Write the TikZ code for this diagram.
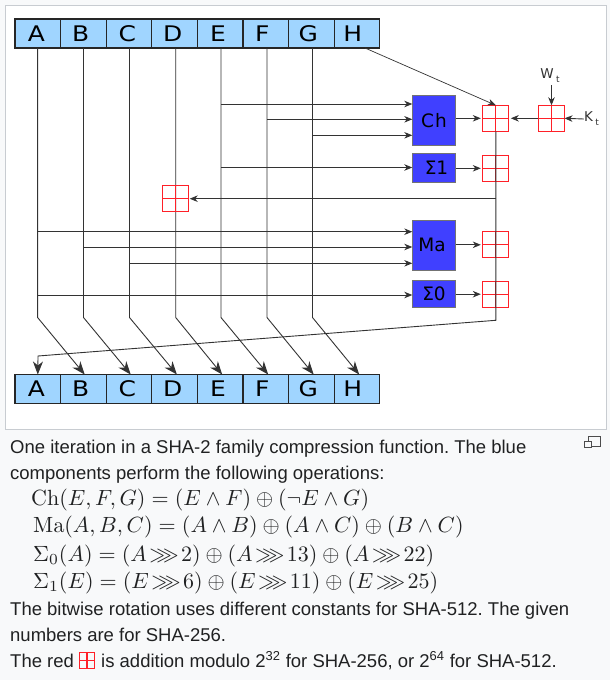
\documentclass[tikz,border=0pt]{standalone}
\usepackage{amsmath,amssymb}
\usepackage[no-math]{fontspec}
\setmainfont{Liberation Sans}
\newfontfamily\diagramfont{DejaVu Sans}
\newfontfamily\cellfont[FakeStretch=1.16]{DejaVu Sans}
\usetikzlibrary{arrows.meta,positioning}

\definecolor{pagegrey}{HTML}{F8F9FA}
\definecolor{framegrey}{HTML}{C8CCD1}
\definecolor{cellblue}{HTML}{A0D5FF}
\definecolor{opblue}{HTML}{4040FF}
\definecolor{addred}{HTML}{FF2028}
\definecolor{captext}{HTML}{202122}

\newcommand{\bigmath}[1]{\scalebox{2.2}{$#1$}}

\tikzset{
    cell/.style={rectangle, draw=black!85, fill=cellblue, line width=1.1pt, inner sep=0pt, outer sep=0pt,
        minimum width=45.6pt, minimum height=29pt, font=\cellfont\fontsize{21.5}{21.5}\selectfont},
    opbox/.style={rectangle, draw=black!55, fill=opblue, line width=0.8pt, inner sep=0pt, outer sep=0pt,
        minimum width=43.4pt, font=\diagramfont\fontsize{18.5}{18.5}\selectfont},
    adder/.style={rectangle, draw=addred, line width=1.2pt, inner sep=0pt, outer sep=0pt, minimum size=#1,
        path picture={
            \draw[addred, line width=1.2pt] (path picture bounding box.north) -- (path picture bounding box.south);
            \draw[addred, line width=1.2pt] (path picture bounding box.west) -- (path picture bounding box.east);
        }},
    adder/.default=26pt,
    wire/.style={draw=black!80, line width=0.9pt},
    smalltip/.style={wire, -{Stealth[length=8pt,width=6.5pt,inset=2.5pt]}},
    bigtip/.style={wire, -{Stealth[length=13pt,width=10pt,inset=4pt]}},
    tinylabel/.style={inner sep=0pt, text=black!80, font=\diagramfont\fontsize{13.5}{13.5}\selectfont},
    caption/.style={inner sep=0pt, anchor=base west, text=captext, font=\frenchspacing\fontsize{18.5}{18.5}\selectfont},
    formula/.style={inner sep=0pt, anchor=base west, text=captext}
}

\begin{document}
\begin{tikzpicture}[x=1pt,y=-1pt]
    \useasboundingbox (0,0) rectangle (610,680);
    \fill[pagegrey] (0,0) rectangle (610,680);
    \draw[framegrey, fill=white, line width=1pt] (5.5,5.5) rectangle (606.5,429.5);

    % registers, before and after the round
    \foreach \name/\off [count=\i from 0] in {A/3,B/5.5,C/3.5,D/3.5,E/4.5,F/7,G/6,H/8.6} {
        \node[cell] (top-\name) at (37.8+45.6*\i,33.5) {\hspace*{-\off pt}\name};
        \node[cell] (bot-\name) at (37.8+45.6*\i,389) {\hspace*{-\off pt}\name};
    }
    \foreach \name/\x in {A/37.6,B/83.5,C/129.5,D/175.7,E/221,F/267,G/312.5,H/358}
        \coordinate (bend-\name) at (\x,317.5);

    % the operations
    \node[opbox, minimum height=50.4pt] (Ch) at (434,120.5) {C\hspace{1pt}h};
    \node[opbox, minimum height=28.5pt] (SigmaOne) at (434,167.7) {\hspace*{5pt}Σ1};
    \node[opbox, minimum height=50.3pt] (Ma) at (434,245.2) {\hspace*{-4pt}Ma};
    \node[opbox, minimum height=27.4pt] (SigmaZero) at (434,294) {Σ0};

    % register lines going down to the next register
    \foreach \name/\next in {A/B,B/C,C/D,D/E,E/F,F/G,G/H}
        \draw[bigtip] (bend-\name |- top-\name.south) -- (bend-\name) -- ([xshift=1.2pt]bend-\next |- bot-\next.north);

    % adders
    \node[adder] (addD) at (175.7,198.7) {};
    \node[adder] (addCh) at (495.8,118.3) {};
    \node[adder] (addOne) at (495.8,168.3) {};
    \node[adder] (addMa) at (495.8,244.8) {};
    \node[adder] (addZero) at (495.8,294.2) {};
    \node[adder] (addKW) at (551.5,118.3) {};

    \node[tinylabel] (Wt) at (550,76) {W\hspace{2.5pt}\raisebox{-4pt}{\fontsize{9}{9}\selectfont t}};
    \node[tinylabel] (Kt) at (591.5,119) {K\hspace{2.5pt}\raisebox{-4pt}{\fontsize{9}{9}\selectfont t}};

    % inputs of the operations
    \foreach \src/\dst/\y in {E/Ch/104,F/Ch/119.3,G/Ch/135.3,E/SigmaOne/167.5,A/Ma/231.7,B/Ma/247,C/Ma/263.3,A/SigmaZero/295}
        \draw[smalltip] (bend-\src |- 0,\y) -- (\dst.west |- 0,\y);

    % outputs of the operations
    \draw[smalltip, shorten >=2pt] (Ch.east |- addCh.west) -- (addCh.west);
    \draw[smalltip, shorten >=2pt] (SigmaOne.east |- addOne.west) -- (addOne.west);
    \draw[smalltip, shorten >=2pt] (Ma.east |- addMa.west) -- (addMa.west);
    \draw[smalltip, shorten >=2pt] (SigmaZero.east |- addZero.west) -- (addZero.west);
    \draw[smalltip, shorten >=2pt, shorten <=1pt] (addKW.west) -- (addCh.east);
    \draw[smalltip] (addKW.north |- Wt.south) ++(0,2) -- (addKW.north);
    \draw[smalltip] (Kt.west) -- (addKW.east);
    \draw[smalltip, line width=0.7pt] ([xshift=8pt]top-H.south) -- (addCh.north);

    % the sum runs down and back to A
    \coordinate (sumright) at (495.8,320.3);
    \coordinate (sumleft) at (38,356);
    \draw[bigtip] (addCh.south) -- (sumright) -- (sumleft) -- (bot-A.north);
    \draw[smalltip, shorten >=1pt] (addCh.south |- addD.east) -- (addD.east);

    % caption
    \node[rectangle, draw=black!70, line width=0.8pt, fill=pagegrey, minimum width=12pt, minimum height=10pt, inner sep=0pt] (bigpane) at (594,441) {};
    \node[rectangle, draw=black!70, line width=0.8pt, fill=pagegrey, minimum width=7pt, minimum height=6pt, inner sep=0pt] (smallpane) at (588,444) {};

    \node[caption] (cap-one) at (10,453) {One iteration in a SHA-2 family compression function. The blue};
    \node[caption] (cap-two) at (10,479) {components perform the following operations:};
    \node[formula] (eq-ch) at (31,505) {\bigmath{\mathrm{Ch}(E,F,G)=(E\wedge F)\oplus(\neg E\wedge G)}};
    \node[formula] (eq-ma) at (33,532) {\bigmath{\mathrm{Ma}(A,B,C)=(A\wedge B)\oplus(A\wedge C)\oplus(B\wedge C)}};
    \node[formula] (eq-zero) at (33,561) {\bigmath{\Sigma_0(A)=(A\mkern2mu{\ggg}\mkern2mu2)\oplus(A\mkern2mu{\ggg}\mkern2mu13)\oplus(A\mkern2mu{\ggg}\mkern2mu22)}};
    \node[formula] (eq-one) at (33,588) {\bigmath{\Sigma_1(E)=(E\mkern2mu{\ggg}\mkern2mu6)\oplus(E\mkern2mu{\ggg}\mkern2mu11)\oplus(E\mkern2mu{\ggg}\mkern2mu25)}};
    \node[caption] (cap-three) at (10,615) {The bitwise rotation uses different constants for SHA-512. The given};
    \node[caption] (cap-four) at (10,641) {numbers are for SHA-256.};
    \node[caption] (cap-five) at (10,667) {The red};
    \node[adder=15.5pt] (cap-icon) at (87,660.5) {};
    \node[caption] (cap-six) at (101,667) {is addition modulo 2\textsuperscript{32} for SHA-256, or 2\textsuperscript{64} for SHA-512.};
\end{tikzpicture}
\end{document}
